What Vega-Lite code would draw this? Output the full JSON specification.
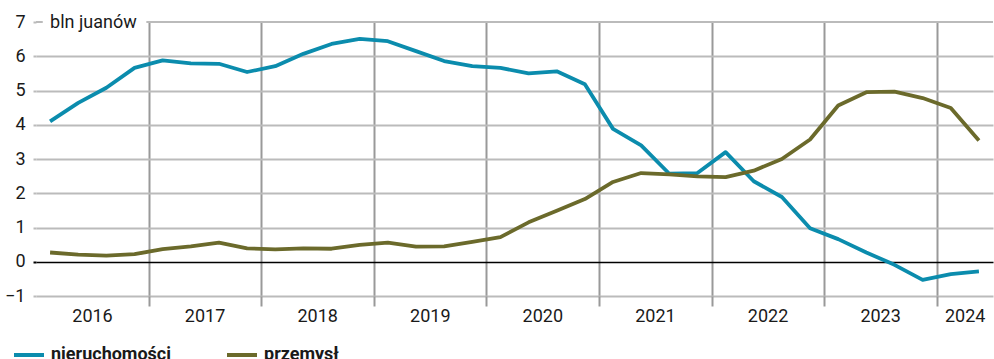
{
  "$schema": "https://vega.github.io/schema/vega-lite/v6.json",
  "autosize": "none",
  "width": 957,
  "height": 274,
  "padding": {"left": 36, "top": 22, "right": 1, "bottom": 63},
  "background": "white",
  "config": {
    "font": "Roboto",
    "view": {"stroke": null},
    "legend": {
      "orient": "none",
      "direction": "horizontal",
      "legendX": -24,
      "legendY": 316,
      "symbolType": "stroke",
      "symbolSize": 900,
      "symbolStrokeWidth": 4,
      "labelFontSize": 18,
      "labelFontWeight": "bold",
      "labelFont": "Roboto",
      "labelColor": "#1a1a1a",
      "labelOffset": 5,
      "columnPadding": 47,
      "padding": 0,
      "title": null
    }
  },
  "datasets": {
    "series": [
      {"t": 2016.125, "s": "nieruchomości", "v": 4.10},
      {"t": 2016.375, "s": "nieruchomości", "v": 4.64},
      {"t": 2016.625, "s": "nieruchomości", "v": 5.08},
      {"t": 2016.875, "s": "nieruchomości", "v": 5.66},
      {"t": 2017.125, "s": "nieruchomości", "v": 5.88},
      {"t": 2017.375, "s": "nieruchomości", "v": 5.79},
      {"t": 2017.625, "s": "nieruchomości", "v": 5.78},
      {"t": 2017.875, "s": "nieruchomości", "v": 5.54},
      {"t": 2018.125, "s": "nieruchomości", "v": 5.71},
      {"t": 2018.375, "s": "nieruchomości", "v": 6.07},
      {"t": 2018.625, "s": "nieruchomości", "v": 6.36},
      {"t": 2018.875, "s": "nieruchomości", "v": 6.51},
      {"t": 2019.125, "s": "nieruchomości", "v": 6.44},
      {"t": 2019.375, "s": "nieruchomości", "v": 6.15},
      {"t": 2019.625, "s": "nieruchomości", "v": 5.86},
      {"t": 2019.875, "s": "nieruchomości", "v": 5.71},
      {"t": 2020.125, "s": "nieruchomości", "v": 5.66},
      {"t": 2020.375, "s": "nieruchomości", "v": 5.50},
      {"t": 2020.625, "s": "nieruchomości", "v": 5.56},
      {"t": 2020.875, "s": "nieruchomości", "v": 5.18},
      {"t": 2021.125, "s": "nieruchomości", "v": 3.88},
      {"t": 2021.375, "s": "nieruchomości", "v": 3.40},
      {"t": 2021.625, "s": "nieruchomości", "v": 2.57},
      {"t": 2021.875, "s": "nieruchomości", "v": 2.59},
      {"t": 2022.125, "s": "nieruchomości", "v": 3.20},
      {"t": 2022.375, "s": "nieruchomości", "v": 2.35},
      {"t": 2022.625, "s": "nieruchomości", "v": 1.89},
      {"t": 2022.875, "s": "nieruchomości", "v": 0.98},
      {"t": 2023.125, "s": "nieruchomości", "v": 0.66},
      {"t": 2023.375, "s": "nieruchomości", "v": 0.27},
      {"t": 2023.625, "s": "nieruchomości", "v": -0.09},
      {"t": 2023.875, "s": "nieruchomości", "v": -0.53},
      {"t": 2024.125, "s": "nieruchomości", "v": -0.36},
      {"t": 2024.375, "s": "nieruchomości", "v": -0.28},
      {"t": 2016.125, "s": "przemysł", "v": 0.27},
      {"t": 2016.375, "s": "przemysł", "v": 0.21},
      {"t": 2016.625, "s": "przemysł", "v": 0.18},
      {"t": 2016.875, "s": "przemysł", "v": 0.22},
      {"t": 2017.125, "s": "przemysł", "v": 0.37},
      {"t": 2017.375, "s": "przemysł", "v": 0.45},
      {"t": 2017.625, "s": "przemysł", "v": 0.56},
      {"t": 2017.875, "s": "przemysł", "v": 0.39},
      {"t": 2018.125, "s": "przemysł", "v": 0.36},
      {"t": 2018.375, "s": "przemysł", "v": 0.39},
      {"t": 2018.625, "s": "przemysł", "v": 0.38},
      {"t": 2018.875, "s": "przemysł", "v": 0.49},
      {"t": 2019.125, "s": "przemysł", "v": 0.56},
      {"t": 2019.375, "s": "przemysł", "v": 0.44},
      {"t": 2019.625, "s": "przemysł", "v": 0.45},
      {"t": 2019.875, "s": "przemysł", "v": 0.58},
      {"t": 2020.125, "s": "przemysł", "v": 0.72},
      {"t": 2020.375, "s": "przemysł", "v": 1.15},
      {"t": 2020.625, "s": "przemysł", "v": 1.49},
      {"t": 2020.875, "s": "przemysł", "v": 1.83},
      {"t": 2021.125, "s": "przemysł", "v": 2.33},
      {"t": 2021.375, "s": "przemysł", "v": 2.59},
      {"t": 2021.625, "s": "przemysł", "v": 2.55},
      {"t": 2021.875, "s": "przemysł", "v": 2.49},
      {"t": 2022.125, "s": "przemysł", "v": 2.47},
      {"t": 2022.375, "s": "przemysł", "v": 2.66},
      {"t": 2022.625, "s": "przemysł", "v": 3.00},
      {"t": 2022.875, "s": "przemysł", "v": 3.57},
      {"t": 2023.125, "s": "przemysł", "v": 4.56},
      {"t": 2023.375, "s": "przemysł", "v": 4.95},
      {"t": 2023.625, "s": "przemysł", "v": 4.97},
      {"t": 2023.875, "s": "przemysł", "v": 4.78},
      {"t": 2024.125, "s": "przemysł", "v": 4.49},
      {"t": 2024.375, "s": "przemysł", "v": 3.54}
    ],
    "topline": [
      {"t": 2016, "t2": 2016.06, "v": 7},
      {"t": 2016.98, "t2": 2024.5, "v": 7}
    ],
    "unit": [
      {"t": 2016.125, "v": 7, "label": "bln juanów"}
    ]
  },
  "encoding": {
    "x": {
      "field": "t", "type": "quantitative",
      "scale": {"domain": [2016, 2024.5], "nice": false, "zero": false},
      "axis": {
        "values": [2016, 2017, 2018, 2019, 2020, 2021, 2022, 2023, 2024],
        "labelExpr": "toString(datum.value)",
        "grid": true, "gridColor": "#999999", "gridWidth": 2,
        "gridOpacity": {"condition": {"test": "datum.value === 2016", "value": 0}, "value": 1},
        "ticks": true, "tickSize": 10, "tickColor": "#999999", "tickWidth": 2,
        "tickOpacity": {"condition": {"test": "datum.value === 2016", "value": 0}, "value": 1},
        "labelOffset": {"condition": {"test": "datum.value === 2024", "value": 28}, "value": 56},
        "labelFlush": false, "labelOverlap": false, "labelBound": false,
        "labelFontSize": 18, "labelColor": "#1a1a1a", "labelPadding": 1, "labelFont": "Roboto",
        "domain": false, "title": null
      }
    },
    "y": {
      "field": "v", "type": "quantitative",
      "scale": {"domain": [-1, 7], "nice": false, "zero": false},
      "axis": {
        "values": [-1, 0, 1, 2, 3, 4, 5, 6, 7],
        "labelOverlap": false,
        "grid": true,
        "gridColor": {"condition": {"test": "datum.value === 0", "value": "#000000"}, "value": "#bbbbbb"},
        "gridWidth": {"condition": {"test": "datum.value === 0", "value": 1.5}, "value": 2},
        "gridOpacity": {"condition": {"test": "datum.value === 7", "value": 0}, "value": 1},
        "ticks": true, "tickSize": 3,
        "tickColor": {"condition": {"test": "datum.value === 0", "value": "#000000"}, "value": "#bbbbbb"},
        "tickWidth": 2,
        "domain": false, "title": null,
        "labelFontSize": 18, "labelColor": "#1a1a1a", "labelPadding": 8, "labelFont": "Roboto"
      }
    }
  },
  "layer": [
    {
      "data": {"name": "topline"},
      "mark": {"type": "rule", "color": "#bbbbbb", "strokeWidth": 2},
      "encoding": {
        "x2": {"field": "t2"}
      }
    },
    {
      "data": {"name": "series"},
      "mark": {"type": "line", "strokeWidth": 3.8, "strokeJoin": "round"},
      "encoding": {
        "color": {
          "field": "s", "type": "nominal",
          "scale": {"domain": ["nieruchomości", "przemysł"], "range": ["#0b8cad", "#6b6a2b"]}
        }
      }
    },
    {
      "data": {"name": "unit"},
      "mark": {"type": "text", "align": "left", "baseline": "middle", "fontSize": 18, "font": "Roboto", "color": "#1a1a1a", "dy": 1},
      "encoding": {
        "text": {"field": "label"}
      }
    }
  ]
}
